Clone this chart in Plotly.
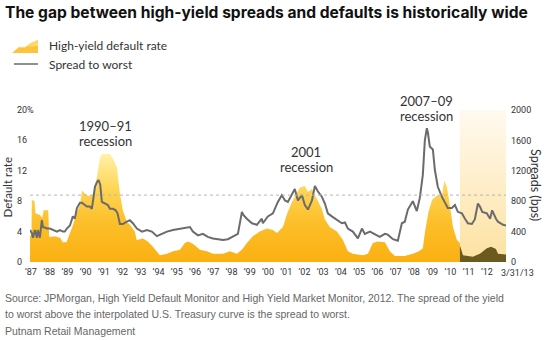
import plotly.graph_objects as go

# ---------------- data ----------------
default_years = [1986.95, 1987.03, 1987.05, 1987.20, 1987.25, 1987.50, 1987.62, 1987.70, 1987.95, 1988.00,
                 1988.30, 1988.60, 1988.75, 1988.95, 1989.14, 1989.30, 1989.52, 1989.69, 1989.80, 1989.96,
                 1990.15, 1990.40, 1990.62, 1990.78, 1990.90, 1991.33, 1991.50, 1991.71, 1991.88, 1992.04,
                 1992.26, 1992.43, 1992.70, 1992.80, 1993.14, 1993.41, 1993.69, 1994.07, 1994.46, 1994.79,
                 1995.17, 1995.44, 1995.61, 1995.88, 1996.27, 1996.65, 1996.98, 1997.53, 1997.91, 1998.29,
                 1998.57, 1998.84, 1999.17, 1999.55, 1999.94, 2000.27, 2000.49, 2000.82, 2001.04, 2001.31,
                 2001.75, 2002.02, 2002.19, 2002.41, 2002.68, 2002.95, 2003.12, 2003.39, 2003.78, 2004.11,
                 2004.38, 2004.65, 2005.20, 2005.48, 2005.75, 2006.02, 2006.41, 2006.68, 2006.96, 2007.50,
                 2007.94, 2008.27, 2008.49, 2008.60, 2008.80, 2009.00, 2009.30, 2009.53, 2009.66, 2009.81,
                 2009.97, 2010.14, 2010.36, 2010.52]
default_rate = [3.5, 3.5, 8.2, 8.0, 6.4, 6.2, 5.8, 6.8, 6.8, 3.3,
                3.4, 3.2, 2.6, 2.6, 3.8, 4.8, 6.6, 7.5, 9.4, 9.0,
                8.7, 8.9, 11.2, 13.7, 14.2, 14.2, 13.6, 12.5, 9.0, 6.8,
                5.3, 4.9, 4.0, 2.9, 3.1, 2.7, 2.0, 0.9, 1.1, 1.4,
                1.6, 2.5, 2.7, 2.4, 1.6, 1.4, 1.1, 1.1, 1.4, 1.1,
                1.6, 2.5, 3.4, 4.0, 4.4, 4.2, 3.8, 4.6, 6.3, 7.9,
                9.8, 10.0, 9.2, 9.6, 8.3, 7.0, 5.6, 4.6, 4.0, 2.9,
                1.4, 1.1, 0.9, 1.1, 2.5, 2.7, 2.6, 1.4, 0.8, 0.8,
                1.1, 1.4, 1.8, 3.8, 6.6, 8.2, 8.8, 8.6, 10.7, 9.9,
                7.5, 4.6, 2.9, 2.5]

recent_years = [2010.52, 2010.60, 2010.69, 2011.23, 2011.62, 2012.00, 2012.23, 2012.50, 2012.61, 2013.05]
recent_rate = [2.2, 1.5, 0.9, 0.7, 1.1, 1.8, 2.0, 1.7, 1.1, 1.0]

spread_years = [1986.95, 1987.05, 1987.11, 1987.22, 1987.33, 1987.38, 1987.49, 1987.60, 1987.66, 1987.88,
                1988.04, 1988.21, 1988.43, 1988.59, 1988.75, 1988.86, 1988.97, 1989.14, 1989.30, 1989.41,
                1989.52, 1989.69, 1989.80, 1989.96, 1990.07, 1990.23, 1990.34, 1990.45, 1990.51, 1990.62,
                1990.70, 1990.80, 1990.89, 1991.06, 1991.22, 1991.33, 1991.50, 1991.65, 1991.75, 1991.88,
                1992.04, 1992.26, 1992.43, 1992.59, 1992.81, 1993.09, 1993.36, 1993.63, 1993.91, 1994.18,
                1994.46, 1994.79, 1995.17, 1995.44, 1995.72, 1995.88, 1996.16, 1996.43, 1996.70, 1996.98,
                1997.25, 1997.53, 1997.80, 1998.07, 1998.35, 1998.57, 1998.65, 1998.84, 1999.12, 1999.39,
                1999.66, 1999.72, 1999.99, 2000.27, 2000.54, 2000.76, 2000.93, 2001.09, 2001.47, 2001.64,
                2001.86, 2002.02, 2002.19, 2002.41, 2002.57, 2002.73, 2002.95, 2003.12, 2003.28, 2003.50,
                2003.78, 2004.05, 2004.22, 2004.38, 2004.65, 2004.93, 2005.15, 2005.31, 2005.59, 2005.86,
                2006.13, 2006.41, 2006.57, 2006.85, 2007.12, 2007.34, 2007.50, 2007.67, 2007.89, 2007.94,
                2008.16, 2008.33, 2008.49, 2008.60, 2008.71, 2008.77, 2008.87, 2009.04, 2009.15, 2009.31,
                2009.53, 2009.70, 2009.86, 2010.08, 2010.25, 2010.41, 2010.63, 2010.80, 2010.96, 2011.18,
                2011.34, 2011.51, 2011.62, 2011.75, 2012.00, 2012.18, 2012.29, 2012.50, 2012.61, 2012.89,
                2013.05]
spread_bps = [420, 380, 320, 420, 320, 420, 320, 550, 460, 440,
              440, 420, 400, 420, 400, 400, 440, 480, 600, 570,
              710, 780, 780, 750, 730, 730, 700, 880, 990, 1050,
              1080, 1020, 790, 770, 750, 700, 700, 680, 640, 500,
              500, 530, 550, 510, 440, 400, 420, 400, 340, 370,
              400, 420, 440, 450, 460, 400, 350, 370, 330, 310,
              300, 290, 300, 330, 370, 660, 620, 570, 510, 490,
              570, 510, 600, 640, 790, 880, 810, 790, 960, 810,
              880, 750, 690, 810, 1000, 930, 860, 770, 640, 600,
              550, 510, 520, 440, 400, 310, 440, 370, 400, 370,
              330, 370, 360, 300, 280, 510, 530, 690, 790, 800,
              670, 850, 1150, 1600, 1760, 1700, 1520, 1480, 1210, 990,
              860, 790, 710, 710, 750, 660, 640, 570, 510, 500,
              560, 770, 730, 660, 640, 570, 680, 570, 530, 490,
              480]

avg_spread_pct = 8.8
shade_start, shade_end = 2010.52, 2013.05

year_ticks = [1987, 1988, 1989, 1990, 1991, 1992, 1993, 1994, 1995, 1996, 1997, 1998, 1999,
              2000, 2001, 2002, 2003, 2004, 2005, 2006, 2007, 2008, 2009, 2010, 2011, 2012]
year_labels = ["’87", "’88", "’89", "’90", "’91", "’92", "’93", "’94", "’95", "’96", "’97", "’98", "’99",
               "’00", "’01", "’02", "’03", "’04", "’05", "’06", "’07", "’08", "’09", "’10", "’11", "’12"]
left_ticks = [0, 4, 8, 12, 16, 20]
left_labels = ["0", "4", "8", "12", "16", "20%"]
right_ticks = [0, 400, 800, 1200, 1600, 2000]
right_labels = ["0", "400", "800", "1200", "1600", "2000"]

recessions = [("1990–91", "recession", 105, 126, 141),
              ("2001", "recession", 306, 152, 167),
              ("2007–09", "recession", 426, 101, 116)]

# ---------------- layout geometry (pixels) ----------------
W, H = 545, 340
L, R, T, B = 30, 506, 110, 262


def px(xp):
    return (xp - L) / (R - L)


def py(yp):
    return (B - yp) / (B - T)


BODY = "Lato, Roboto, sans-serif"
TICKF = "Liberation Sans Narrow, Roboto, sans-serif"
SRC = "Liberation Sans, Arial, sans-serif"
TXT = "#333333"

fig = go.Figure()

fig.add_trace(go.Scatter(
    x=[shade_start, shade_end, shade_end, shade_start, shade_start],
    y=[0, 0, 20, 20, 0], mode="lines", fill="toself",
    fillgradient=dict(type="vertical", colorscale=[[0, "#fde1a0"], [1, "#fffaf0"]], start=0, stop=20),
    line=dict(width=0), hoverinfo="skip"))

fig.add_trace(go.Scatter(
    x=default_years, y=default_rate, mode="lines", fill="tozeroy",
    fillgradient=dict(type="vertical",
                      colorscale=[[0, "#fbb012"], [0.35, "#fcbf2a"], [0.65, "#fed657"], [1, "#fff6b6"]],
                      start=0, stop=15),
    line=dict(width=0), hoverinfo="skip"))

fig.add_trace(go.Scatter(
    x=recent_years, y=recent_rate, mode="lines", fill="tozeroy",
    fillcolor="#6b5a20", line=dict(width=0), hoverinfo="skip"))

fig.add_trace(go.Scatter(
    x=spread_years, y=spread_bps, mode="lines", yaxis="y2",
    line=dict(color="#6b6b6b", width=2), hoverinfo="skip"))

shapes = [
    dict(type="line", xref="paper", yref="y", x0=0, x1=1, y0=avg_spread_pct, y1=avg_spread_pct,
         line=dict(color="#b5b5b5", width=1, dash="dot"), layer="above"),
    # legend icons
    dict(type="path", xref="paper", yref="paper",
         path="M %f,%f L %f,%f L %f,%f L %f,%f L %f,%f L %f,%f Z" % (
             px(12), py(53), px(19), py(47), px(24), py(48), px(31), py(43), px(38), py(40), px(38), py(53)),
         fillcolor="#fcc43a", line=dict(width=0)),
    dict(type="path", xref="paper", yref="paper",
         path="M %f,%f L %f,%f L %f,%f L %f,%f L %f,%f Z" % (
             px(19), py(47), px(24), py(48), px(31), py(43), px(38), py(40), px(38), py(46)),
         fillcolor="#fdd96a", line=dict(width=0)),
    dict(type="line", xref="paper", yref="paper", x0=px(14), x1=px(38), y0=py(64), y1=py(64),
         line=dict(color="#6b6b6b", width=1.5)),
]

ann = [
    dict(text="<b>The gap between high-yield spreads and defaults is historically wide</b>",
         x=px(3), y=py(12.5), xanchor="left", yanchor="middle",
         font=dict(family="Inter, sans-serif", size=15.6, color="#111111")),
    dict(text="High-yield default rate", x=px(47), y=py(45.5), xanchor="left", yanchor="middle",
         font=dict(family=BODY, size=12, color=TXT)),
    dict(text="Spread to worst", x=px(47), y=py(64.5), xanchor="left", yanchor="middle",
         font=dict(family=BODY, size=12, color=TXT)),
    dict(text="Default rate", x=px(6.5), y=py(188), xanchor="center", yanchor="middle", textangle=-90,
         font=dict(family=BODY, size=11.5, color=TXT)),
    dict(text="Spreads (bps)", x=px(536), y=py(185), xanchor="center", yanchor="middle", textangle=90,
         font=dict(family=BODY, size=12.5, color=TXT)),
    dict(text="3/31/13", x=px(517), y=py(273), xanchor="center", yanchor="middle",
         font=dict(family=TICKF, size=9, color=TXT)),
    dict(text="Source: JPMorgan, High Yield Default Monitor and High Yield Market Monitor, 2012. The spread of the yield",
         x=px(3), y=py(298), xanchor="left", yanchor="middle",
         font=dict(family=SRC, size=10.5, color="#666666")),
    dict(text="to worst above the interpolated U.S. Treasury curve is the spread to worst.",
         x=px(3), y=py(314), xanchor="left", yanchor="middle",
         font=dict(family=SRC, size=10.5, color="#666666")),
    dict(text="Putnam Retail Management",
         x=px(3), y=py(331), xanchor="left", yanchor="middle",
         font=dict(family=SRC, size=10.5, color="#666666")),
]
# left-axis tick labels, left-aligned as in the reference, placed on the y scale
for v, lab in zip(left_ticks, left_labels):
    ann.append(dict(text=lab, x=px(15), y=v, yref="y", xanchor="left", yanchor="middle",
                    font=dict(family=TICKF, size=9, color=TXT)))
for l1, l2, cx, y1, y2 in recessions:
    ann.append(dict(text=l1, x=px(cx), y=py(y1), xanchor="center", yanchor="middle",
                    font=dict(family=BODY, size=13, color=TXT)))
    ann.append(dict(text=l2, x=px(cx), y=py(y2), xanchor="center", yanchor="middle",
                    font=dict(family=BODY, size=13, color=TXT)))
for a in ann:
    a.setdefault("yref", "paper")
    a.update(xref="paper", showarrow=False)

fig.update_layout(
    width=W, height=H,
    margin=dict(l=L, r=W - R, t=T, b=H - B, pad=0),
    paper_bgcolor="white", plot_bgcolor="rgba(0,0,0,0)",
    showlegend=False,
    xaxis=dict(range=[1986.95, 2013.05], tickvals=year_ticks, ticktext=year_labels,
               showgrid=False, zeroline=False, showline=False, ticks="",
               tickfont=dict(family=TICKF, size=9, color=TXT), ticklabelstandoff=3),
    yaxis=dict(range=[0, 20], tickvals=left_ticks, showticklabels=False,
               showgrid=False, zeroline=False, showline=False, ticks=""),
    yaxis2=dict(range=[0, 2000], tickvals=right_ticks, ticktext=right_labels, overlaying="y", side="right",
                showgrid=False, zeroline=False, showline=False, ticks="",
                tickfont=dict(family=TICKF, size=9, color=TXT), ticklabelstandoff=4),
    shapes=shapes, annotations=ann,
)

fig.write_html("out.html")
